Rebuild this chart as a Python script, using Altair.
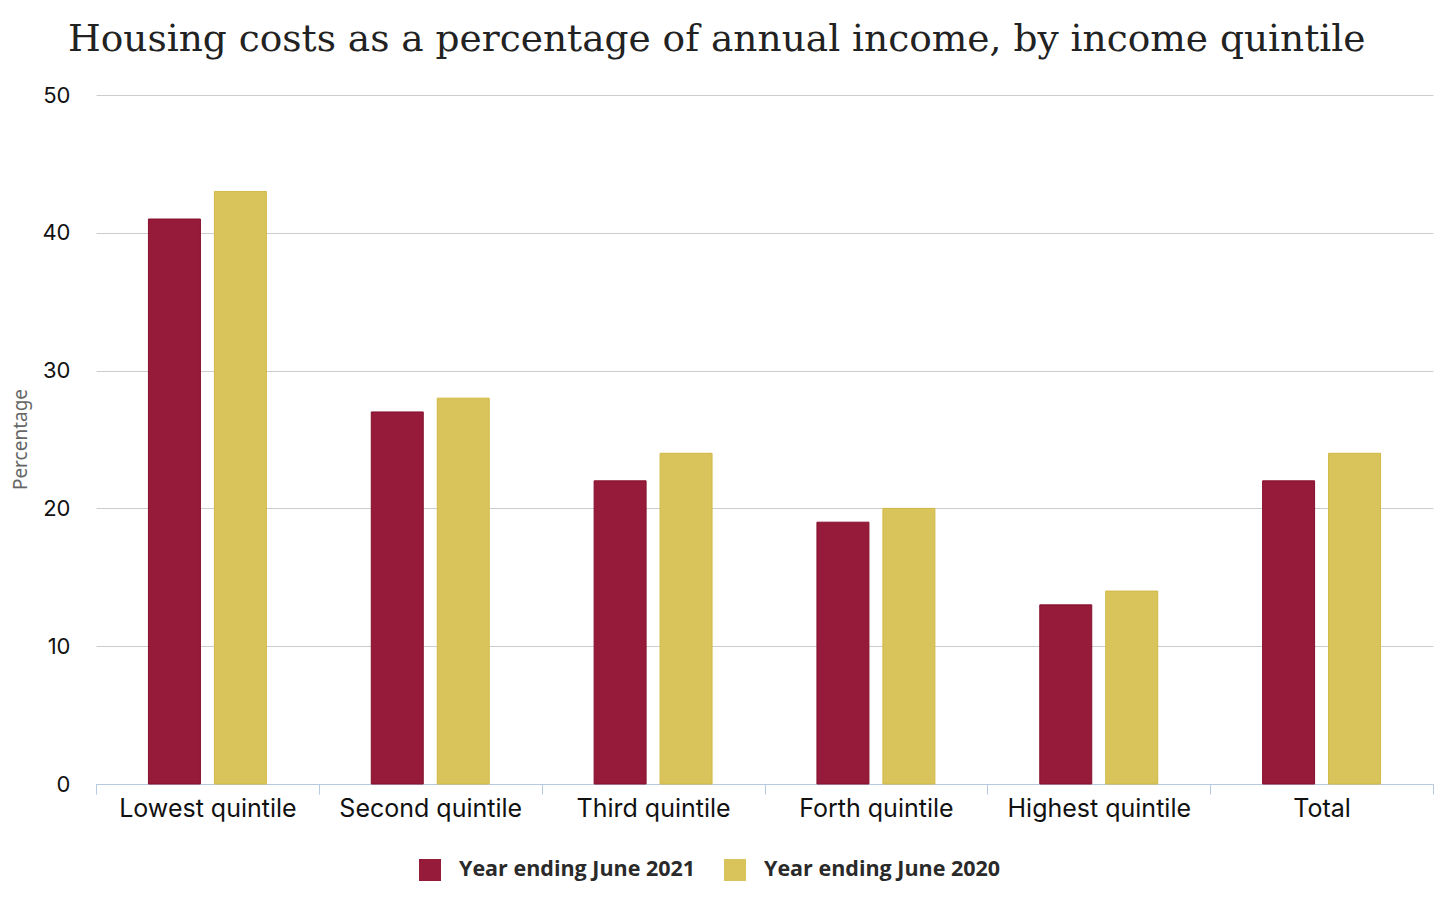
import altair as alt
import pandas as pd

categories = ["Lowest quintile", "Second quintile", "Third quintile",
              "Forth quintile", "Highest quintile", "Total"]
series = ["Year ending June 2021", "Year ending June 2020"]
values_2021 = [41, 27, 22, 19, 13, 22]
values_2020 = [43, 28, 24, 20, 14, 24]
y_ticks = [0, 10, 20, 30, 40, 50]

rows = []
for c, a, b in zip(categories, values_2021, values_2020):
    rows.append({"category": c, "series": series[0], "value": a})
    rows.append({"category": c, "series": series[1], "value": b})
df = pd.DataFrame(rows)

colors = ["#961a3a", "#d9c45b"]
strokes = ["#85102e", "#d2b845"]

chart = alt.Chart(df).mark_bar(strokeWidth=1).encode(
    x=alt.X("category:N", sort=categories,
            scale=alt.Scale(paddingInner=0, paddingOuter=0),
            axis=alt.Axis(title=None, labelAngle=0, labelFontSize=25,
                          labelFont="Inter", labelColor="#111", labelLimit=0,
                          domainColor="#b6c9de", tickColor="#b6c9de",
                          tickSize=10, tickBand="extent", labelPadding=2,
                          grid=False)),
    xOffset=alt.XOffset("series:N", sort=series,
                        scale=alt.Scale(paddingInner=0.212, paddingOuter=0.795)),
    y=alt.Y("value:Q", scale=alt.Scale(domain=[0, 50], nice=False),
            axis=alt.Axis(title="Percentage", values=y_ticks, ticks=False,
                          domain=False, grid=True, gridColor="#cccccc",
                          labelFontSize=22, labelFont="Inter", labelColor="#111",
                          labelPadding=26, titleFont="Noto Sans",
                          titleFontSize=19, titleFontWeight="normal",
                          titleColor="#666666", titleX=-66, titleY=344,
                          titleAngle=270, titleBaseline="bottom")),
    color=alt.Color("series:N", sort=series,
                    scale=alt.Scale(domain=series, range=colors),
                    legend=alt.Legend(title=None, orient="none", direction="horizontal",
                                      legendX=323, legendY=764, padding=0,
                                      symbolType="square", symbolSize=484,
                                      symbolStrokeWidth=0, labelLimit=0,
                                      labelFont="Open Sans", labelFontWeight="bold",
                                      labelFontSize=21.5, labelColor="#2a2a2a",
                                      labelOffset=18, columnPadding=28)),
    stroke=alt.Stroke("series:N", sort=series,
                      scale=alt.Scale(domain=series, range=strokes), legend=None),
).properties(
    width=1337, height=689,
    title=alt.TitleParams("Housing costs as a percentage of annual income, by income quintile",
                          font="DejaVu Serif", fontSize=37.5, fontWeight="normal",
                          color="#222222", anchor="start", frame="group",
                          dx=-28, offset=26),
    autosize=alt.AutoSizeParams(type="none"),
    padding={"left": 88, "top": 87, "right": 15, "bottom": 110},
).configure_view(stroke=None)

chart.save("out.html", embed_options={"renderer": "svg", "actions": False})
